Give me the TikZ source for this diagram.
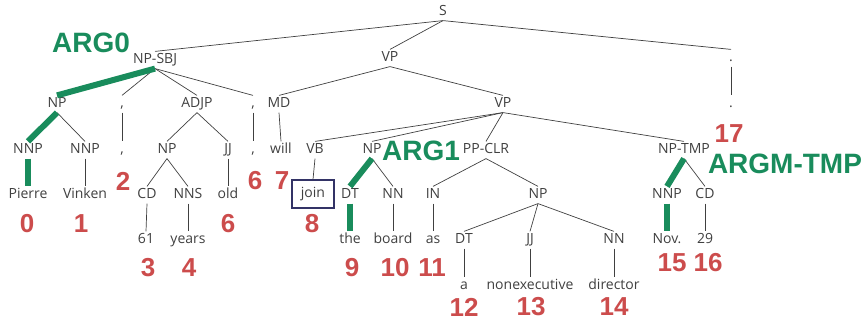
\documentclass[tikz,border=0pt]{standalone}
\usepackage{fontspec}
\newfontfamily\treefont{Open Sans}
\newfontfamily\numfont{Liberation Sans}
\definecolor{treegray}{rgb}{0.25,0.25,0.25}
\definecolor{idxred}{rgb}{0.80,0.30,0.30}
\definecolor{arggreen}{rgb}{0.10,0.55,0.36}
\definecolor{boxblue}{rgb}{0.20,0.20,0.40}
\usepackage{tikz}
\usetikzlibrary{positioning}
\newcommand{\treeedge}[2]
{
	\draw (#1.south) -- (#2.north)
}
\newcommand{\argedge}[2]
{
	\draw[argline] (#1.south) -- (#2.north)
}

\begin{document}
\begin{tikzpicture}[x=1pt, y=-1pt, line width=0.7pt, draw=treegray,
	every node/.append style={font=\treefont\fontsize{14}{16}\selectfont, text=treegray, inner sep=2pt, text height=9.5pt, text depth=3pt},
	idx/.style={font=\numfont\bfseries\fontsize{26}{28}\selectfont, text=idxred, inner sep=0pt, text height=, text depth=},
	arg/.style={font=\numfont\bfseries\fontsize{28}{30}\selectfont, text=arggreen, inner sep=0pt, text height=, text depth=},
	argline/.style={draw=arggreen, line width=6pt}]
	\useasboundingbox (0,0) rectangle (867,321);
	% tags
	\node at (443, 12) (s){S};
	\node at (155, 60) (npsbj){NP-SBJ};
	\node at (390, 58) (vpa){VP};
	\node at (731, 58) (pdtag){.};
	\node at (57, 104) (np1){NP};
	\node at (122, 104) (cmatag1){,};
	\node at (197, 104) (adjp){ADJP};
	\node at (253, 104) (cmatag2){,};
	\node at (279, 104) (md){MD};
	\node at (503, 104) (vpb){VP};
	\node at (28, 150) (nnp1){NNP};
	\node at (85, 150) (nnp2){NNP};
	\node at (167, 150) (np2){NP};
	\node at (228, 150) (jj1){JJ};
	\node at (315, 150) (vb){VB};
	\node at (372, 150) (np3){NP};
	\node at (486, 150) (ppclr){PP-CLR};
	\node at (684, 150) (nptmp){NP-TMP};
	\node at (147, 195) (cd1){CD};
	\node at (188, 195) (nns){NNS};
	\node at (350, 195) (dt1){DT};
	\node at (393, 195) (nn1){NN};
	\node at (433, 195) (inp){IN};
	\node at (538, 195) (np4){NP};
	\node at (667, 195) (nnp3){NNP};
	\node at (705, 195) (cd2){CD};
	\node at (464, 240) (dt2){DT};
	\node at (530, 240) (jj2){JJ};
	\node at (614, 240) (nn2){NN};
	% words
	\node at (731, 104) (pdword){.};
	\node at (122, 150) (cmaword1){,};
	\node at (253, 150) (cmaword2){,};
	\node at (281, 150) (will){will};
	\node at (28, 195) (pierre){Pierre};
	\node at (85, 195) (vinken){Vinken};
	\node at (228, 195) (old){old};
	\node[draw=boxblue, line width=1.2pt, minimum width=42pt, minimum height=28pt] at (313, 194) (join){join};
	\node at (146, 240) (w61){61};
	\node at (188, 240) (years){years};
	\node at (350, 240) (the){the};
	\node at (393, 240) (board){board};
	\node at (433, 240) (as){as};
	\node at (667, 240) (nov){Nov.};
	\node at (705, 240) (w29){29};
	\node at (464, 286) (a){a};
	\node at (530, 286) (nonexec){nonexecutive};
	\node at (614, 286) (director){director};
	% token indices
	\foreach \t/\x/\y [count=\i] in {0/27/224, 1/81/224, 2/123/181, 3/148/268, 4/189/268, 6/228/224,
		6/255/181, 7/282/181, 8/312/224, 9/352/268, 10/395/268, 11/432/268, 12/464/307, 13/531/307,
		14/614/307, 15/672/263, 16/708/263, 17/729/134}
		\node[idx] at (\x, \y) (idx\i){\t};
	% arguments
	\node[arg] at (91, 43) (arg0){ARG0};
	\node[arg] at (421, 151) (arg1){ARG1};
	\node[arg] at (785, 164) (argtmp){ARGM-TMP};
	% branches
	\foreach \p/\c in {s/npsbj, s/vpa, s/pdtag, pdtag/pdword, npsbj/cmatag1, npsbj/adjp, npsbj/cmatag2,
		cmatag1/cmaword1, cmatag2/cmaword2, np1/nnp2, nnp2/vinken, adjp/np2, adjp/jj1, np2/cd1, np2/nns,
		cd1/w61, nns/years, jj1/old, vpa/md, vpa/vpb, md/will, vpb/vb, vpb/np3, vpb/ppclr, vpb/nptmp,
		vb/join, np3/nn1, nn1/board, ppclr/inp, ppclr/np4, inp/as, np4/dt2, np4/jj2, np4/nn2, dt2/a,
		jj2/nonexec, nn2/director, nptmp/cd2, cd2/w29}
		\treeedge{\p}{\c};
	\foreach \p/\c in {npsbj/np1, np1/nnp1, nnp1/pierre, np3/dt1, dt1/the, nptmp/nnp3, nnp3/nov}
		\argedge{\p}{\c};
\end{tikzpicture}
\end{document}
